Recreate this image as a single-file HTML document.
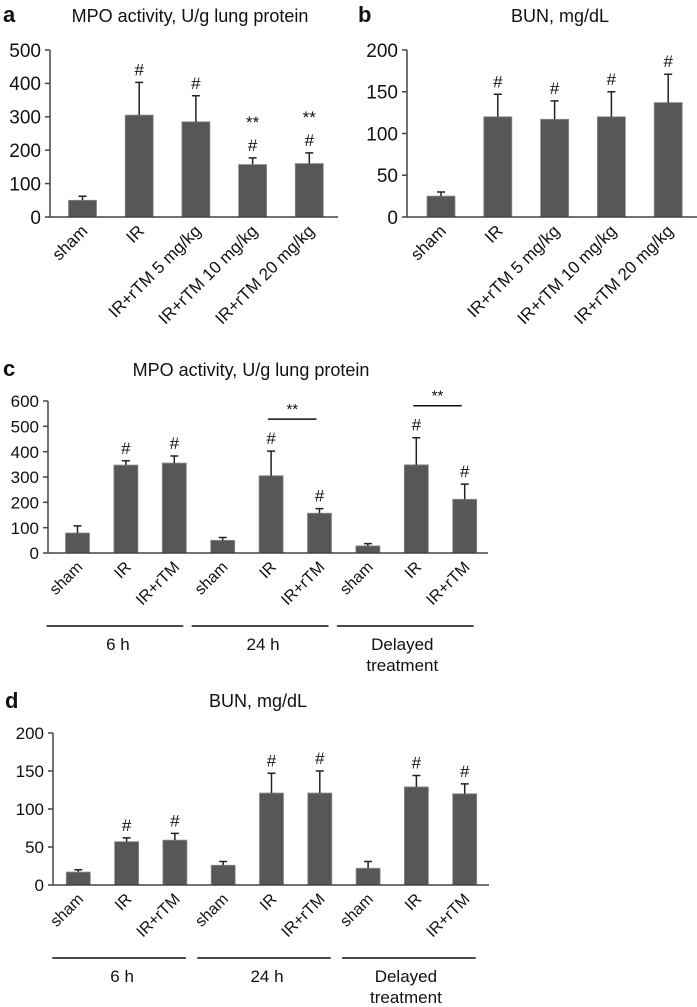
<!DOCTYPE html>
<html><head><meta charset="utf-8">
<style>
html,body{margin:0;padding:0;background:#fff;}
svg{display:block;font-family:"Liberation Sans",sans-serif;}
</style></head>
<body>
<svg id="fig" width="697" height="1007" viewBox="0 0 697 1007" xmlns="http://www.w3.org/2000/svg">
<g font-weight="bold" font-size="22" fill="#111">
<text x="3" y="22">a</text>
<text x="358" y="22">b</text>
<text x="3" y="376">c</text>
<text x="5" y="708">d</text>
</g>
<g font-size="18" fill="#111" text-anchor="middle">
<text x="190" y="22">MPO activity, U/g lung protein</text>
<text x="560" y="22">BUN, mg/dL</text>
<text x="251" y="376">MPO activity, U/g lung protein</text>
<text x="258" y="707">BUN, mg/dL</text>
</g>
</svg>
<script>
// Panel a data
const catsA = ["sham","IR","IR+rTM 5 mg/kg","IR+rTM 10 mg/kg","IR+rTM 20 mg/kg"];
const valsA = [50,305,285,157,160];
const errA = [62,403,363,177,192];
const hashA = [false,true,true,true,true];
const starA = [false,false,false,true,true];
const ticksA = [0,100,200,300,400,500];
// Panel b data
const catsB = ["sham","IR","IR+rTM 5 mg/kg","IR+rTM 10 mg/kg","IR+rTM 20 mg/kg"];
const valsB = [25,120,117,120,137];
const errB = [30,147,139,150,171];
const hashB = [false,true,true,true,true];
const starB = [false,false,false,false,false];
const ticksB = [0,50,100,150,200];
// Panel c data
const catsC = ["sham","IR","IR+rTM","sham","IR","IR+rTM","sham","IR","IR+rTM"];
const valsC = [79,347,355,50,305,157,28,348,212];
const errC = [107,364,383,61,402,175,37,455,272];
const hashC = [false,true,true,false,true,true,false,true,true];
const ticksC = [0,100,200,300,400,500,600];
const sigC = [[4,5],[7,8]];
// Panel d data
const catsD = ["sham","IR","IR+rTM","sham","IR","IR+rTM","sham","IR","IR+rTM"];
const valsD = [17,57,59,26,121,121,22,129,120];
const errD = [20,62,68,31,147,150,31,144,133];
const hashD = [false,true,true,false,true,true,false,true,true];
const ticksD = [0,50,100,150,200];
const groups = ["6 h","24 h","Delayed\ntreatment"];

const NS="http://www.w3.org/2000/svg";
const svg=document.getElementById('fig');
function mk(tag,attrs,parent){const e=document.createElementNS(NS,tag);for(const k in attrs)e.setAttribute(k,attrs[k]);(parent||svg).appendChild(e);return e;}

function panel(p){
  const g=mk('g',{});
  
  
  const y=v=>p.y0-(v-p.min)/(p.max-p.min)*(p.y0-p.y1);
  const x=i=>p.ax+p.pad+i*p.step;
  const ya=mk('line',{x1:p.ax,y1:p.y1,x2:p.ax,y2:p.y0,stroke:'#444','stroke-width':1.5},g);
  
  
  p.ticks.forEach(t=>{
    const tk=mk('line',{x1:p.ax-5,y1:y(t),x2:p.ax,y2:y(t),stroke:'#444','stroke-width':1.5},g);
    
    
    const tl=mk('text',{x:p.ax-9,y:y(t)+p.tfs*0.36,'text-anchor':'end','font-size':p.tfs,fill:'#111'},g);
    
    
    tl.textContent=t;
  });
  p.vals.forEach((v,i)=>{
    const cx=x(i);
    const b=mk('rect',{x:cx-p.bw/2,y:y(v),width:p.bw,height:p.y0-y(v),fill:'#575757',stroke:'#8a8a8a','stroke-width':0.8},g);
    
    
    const e=mk('path',{d:`M${cx},${y(v)}V${y(p.err[i])}M${cx-4},${y(p.err[i])}H${cx+4}`,stroke:'#222','stroke-width':1.5,fill:'none'},g);
    
    
    if(p.hash[i]){
      const h=mk('text',{x:cx,y:y(p.err[i])-7,'text-anchor':'middle','font-size':p.hfs,fill:'#111'},g);
      
      
      h.textContent='#';
    }
    if(p.star&&p.star[i]){
      const s=mk('text',{x:cx,y:y(p.err[i])-30,'text-anchor':'middle','font-size':p.hfs,fill:'#111'},g);
      
      
      s.textContent='**';
    }
    const lx=cx+6, ly=p.y0+15;
    const c=mk('text',{x:lx,y:ly,'text-anchor':'end','font-size':p.cfs,fill:'#111',transform:`rotate(-45 ${lx} ${ly})`},g);
    
    
    c.textContent=p.cats[i];
  });
  const xa=mk('line',{x1:p.ax,y1:p.y0,x2:p.xend,y2:p.y0,stroke:'#444','stroke-width':1.5},g);
  
  
  if(p.sig){
    p.sig.forEach(([a,b])=>{
      const top=Math.max(p.err[a],p.err[b]);
      const ly=y(top)-32;
      const l=mk('line',{x1:x(a)-3,y1:ly,x2:x(b)-3,y2:ly,stroke:'#111','stroke-width':1.5},g);
      
      
      const s=mk('text',{x:(x(a)+x(b))/2-3,y:ly-5,'text-anchor':'middle','font-size':15,fill:'#111'},g);
      
      
      s.textContent='**';
    });
  }
  if(p.groupY){
    groups.forEach((gname,k)=>{
      const x1=x(k*3)-p.gl, x2=x(k*3+2)+p.gr;
      const cxg=(x1+x2)/2+(k==2?-3:3);
      const l=mk('line',{x1:x1,y1:p.groupY,x2:x2,y2:p.groupY,stroke:'#111','stroke-width':1.5},g);
      
      
      const t=mk('text',{x:cxg,y:p.groupY+24,'text-anchor':'middle','font-size':17,fill:'#111'},g);
      
      
      gname.split('\n').forEach((ln,j)=>{const ts=mk('tspan',{x:cxg,dy:j?21:0},t);ts.textContent=ln;});
    });
  }
}
panel({id:'a',cats:catsA,vals:valsA,err:errA,hash:hashA,star:starA,ticks:ticksA,min:0,max:500,ax:50,xend:338,y0:217,y1:50,pad:32.5,step:56.7,bw:28,tfs:19,hfs:17,cfs:17});
panel({id:'b',cats:catsB,vals:valsB,err:errB,hash:hashB,star:starB,ticks:ticksB,min:0,max:200,ax:407,xend:697,y0:217,y1:50,pad:34,step:56.8,bw:28,tfs:19,hfs:17,cfs:17});
panel({id:'c',cats:catsC,vals:valsC,err:errC,hash:hashC,ticks:ticksC,sig:sigC,min:0,max:600,ax:48,xend:488,y0:553,y1:401,pad:29.5,step:48.4,bw:24,tfs:17,hfs:17,cfs:16,groupY:626,gl:31,gr:9});
panel({id:'d',cats:catsD,vals:valsD,err:errD,hash:hashD,ticks:ticksD,min:0,max:200,ax:53,xend:489,y0:885,y1:733,pad:25.3,step:48.3,bw:24,tfs:17,hfs:17,cfs:16,groupY:958,gl:26,gr:11});
</script>
</body></html>
